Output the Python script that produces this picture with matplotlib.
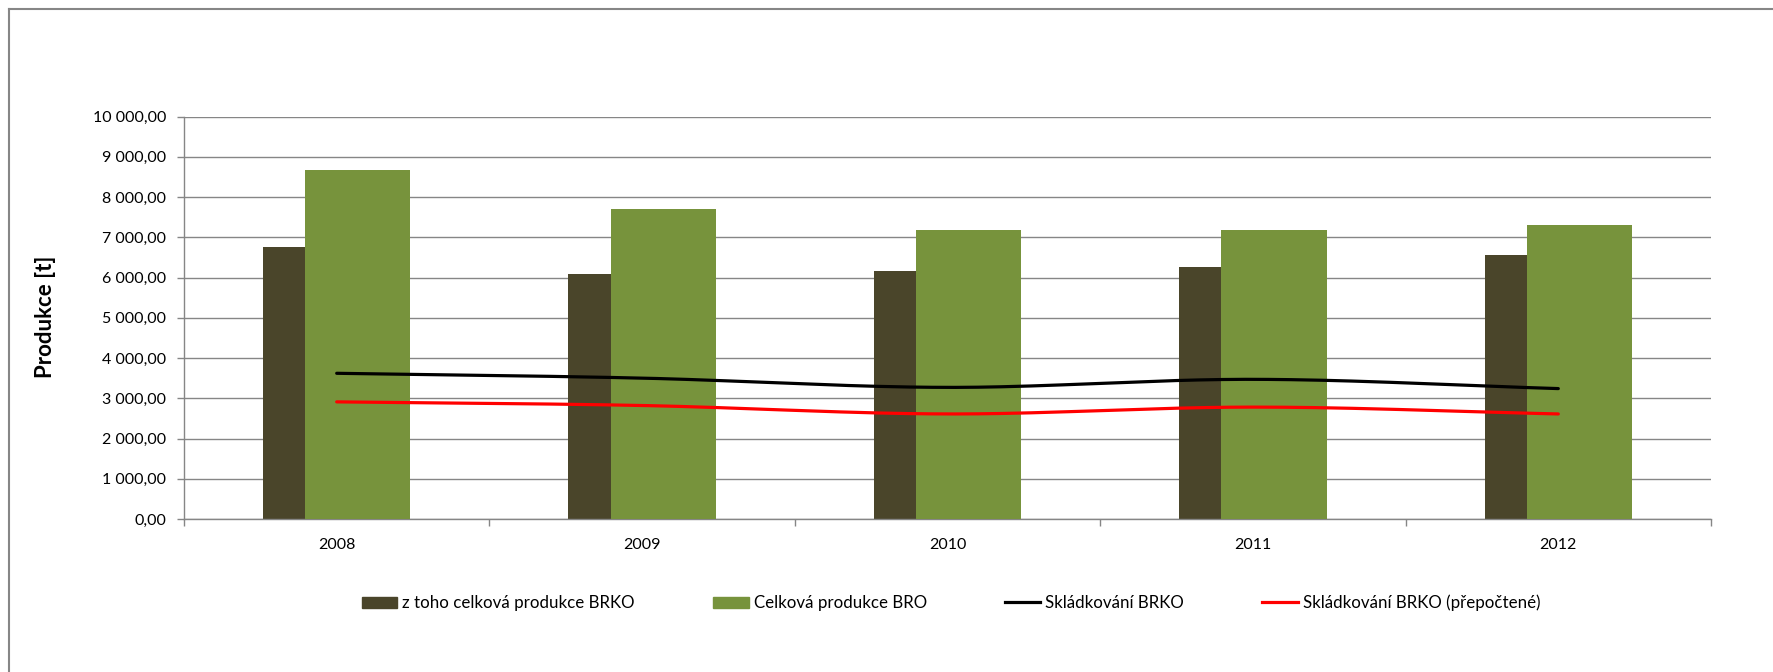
import numpy as np
import matplotlib
matplotlib.use("Agg")
import matplotlib.pyplot as plt
from matplotlib.lines import Line2D
from matplotlib.patches import Patch
from matplotlib.ticker import FuncFormatter, FixedLocator

# ---- data ----
years = ["2008", "2009", "2010", "2011", "2012"]
brko_total = [6750, 6095, 6160, 6260, 6565]        # z toho celková produkce BRKO
bro_total = [8660, 7695, 7180, 7180, 7295]          # Celková produkce BRO
landfill_brko = [3620, 3500, 3270, 3470, 3240]      # Skládkování BRKO
landfill_brko_conv = [2910, 2820, 2610, 2780, 2610] # Skládkování BRKO (přepočtené)

labels = ["z toho celková produkce BRKO", "Celková produkce BRO",
          "Skládkování BRKO", "Skládkování BRKO (přepočtené)"]

C_DARK = "#4A452A"
C_GREEN = "#77933C"
C_GRID = "#868686"

plt.rcParams['font.family'] = ['Lato', 'DejaVu Sans']

fig = plt.figure(figsize=(17.73, 6.72), dpi=100)
ax = fig.add_axes([184/1773, 1-519/672, (1711-184)/1773, (519-116.5)/672])

x = np.arange(len(years))
w = 0.344
off = 0.069
ax.bar(x - off, brko_total, width=w, color=C_DARK, zorder=2)
ax.bar(x + off, bro_total, width=w, color=C_GREEN, zorder=3)


def smooth(xs, ys, n=40):
    xs = np.asarray(xs, float); ys = np.asarray(ys, float)
    px = np.concatenate([[2*xs[0]-xs[1]], xs, [2*xs[-1]-xs[-2]]])
    py = np.concatenate([[2*ys[0]-ys[1]], ys, [2*ys[-1]-ys[-2]]])
    ox, oy = [], []
    for i in range(1, len(px)-2):
        t = np.linspace(0, 1, n, endpoint=False)
        for arr, out in ((px, ox), (py, oy)):
            p0, p1, p2, p3 = arr[i-1], arr[i], arr[i+1], arr[i+2]
            out.extend(0.5*((2*p1) + (-p0+p2)*t + (2*p0-5*p1+4*p2-p3)*t**2 + (-p0+3*p1-3*p2+p3)*t**3))
    ox.append(xs[-1]); oy.append(ys[-1])
    return np.array(ox), np.array(oy)

sx, sy = smooth(x, landfill_brko)
ax.plot(sx, sy, color="black", lw=2.3, solid_capstyle='round', zorder=4)
sx, sy = smooth(x, landfill_brko_conv)
ax.plot(sx, sy, color="#FF0000", lw=2.3, solid_capstyle='round', zorder=4)

ax.set_xlim(-0.5, 4.5)
ax.set_ylim(0, 10000)
ax.set_yticks(np.arange(0, 10001, 1000))
ax.yaxis.set_major_formatter(FuncFormatter(lambda v, p: f"{v:,.2f}".replace(",", " ").replace(".", ",")))
ax.set_xticks(x)
ax.set_xticklabels(years)
ax.xaxis.set_minor_locator(FixedLocator(np.arange(-0.5, 4.6, 1)))
ax.tick_params(axis='x', which='major', length=0, pad=14, labelsize=11.5)
ax.tick_params(axis='x', which='minor', length=5, color=C_GRID, width=1)
ax.tick_params(axis='y', length=5, color=C_GRID, width=1, pad=8, labelsize=11.5)
ax.grid(axis='y', color=C_GRID, lw=1, zorder=0)
ax.set_axisbelow(True)
for s in ['top', 'right']:
    ax.spines[s].set_visible(False)
for s in ['left', 'bottom']:
    ax.spines[s].set_color(C_GRID)
    ax.spines[s].set_linewidth(1)

fig.text(45/1773, 1-317/672, "Produkce [t]", rotation=90, ha='center', va='center',
         fontsize=16, fontweight='bold')

handles = [Patch(color=C_DARK), Patch(color=C_GREEN),
           Line2D([], [], color='black', lw=2.3), Line2D([], [], color='#FF0000', lw=2.3)]
fig.legend(handles, labels, loc='center', bbox_to_anchor=(951/1773, 1-603/672), ncol=4,
           frameon=False, fontsize=12.2, handlelength=2.1, handletextpad=0.3,
           columnspacing=4.6, handleheight=0.66)

# outer border (left & top visible)
fig.add_artist(Line2D([8.5/1773, 8.5/1773], [0, 1-9/672], color=C_GRID, lw=1.5, transform=fig.transFigure))
fig.add_artist(Line2D([8.5/1773, 1], [1-9/672, 1-9/672], color=C_GRID, lw=1.5, transform=fig.transFigure))

fig.savefig("out.png", dpi=100)
